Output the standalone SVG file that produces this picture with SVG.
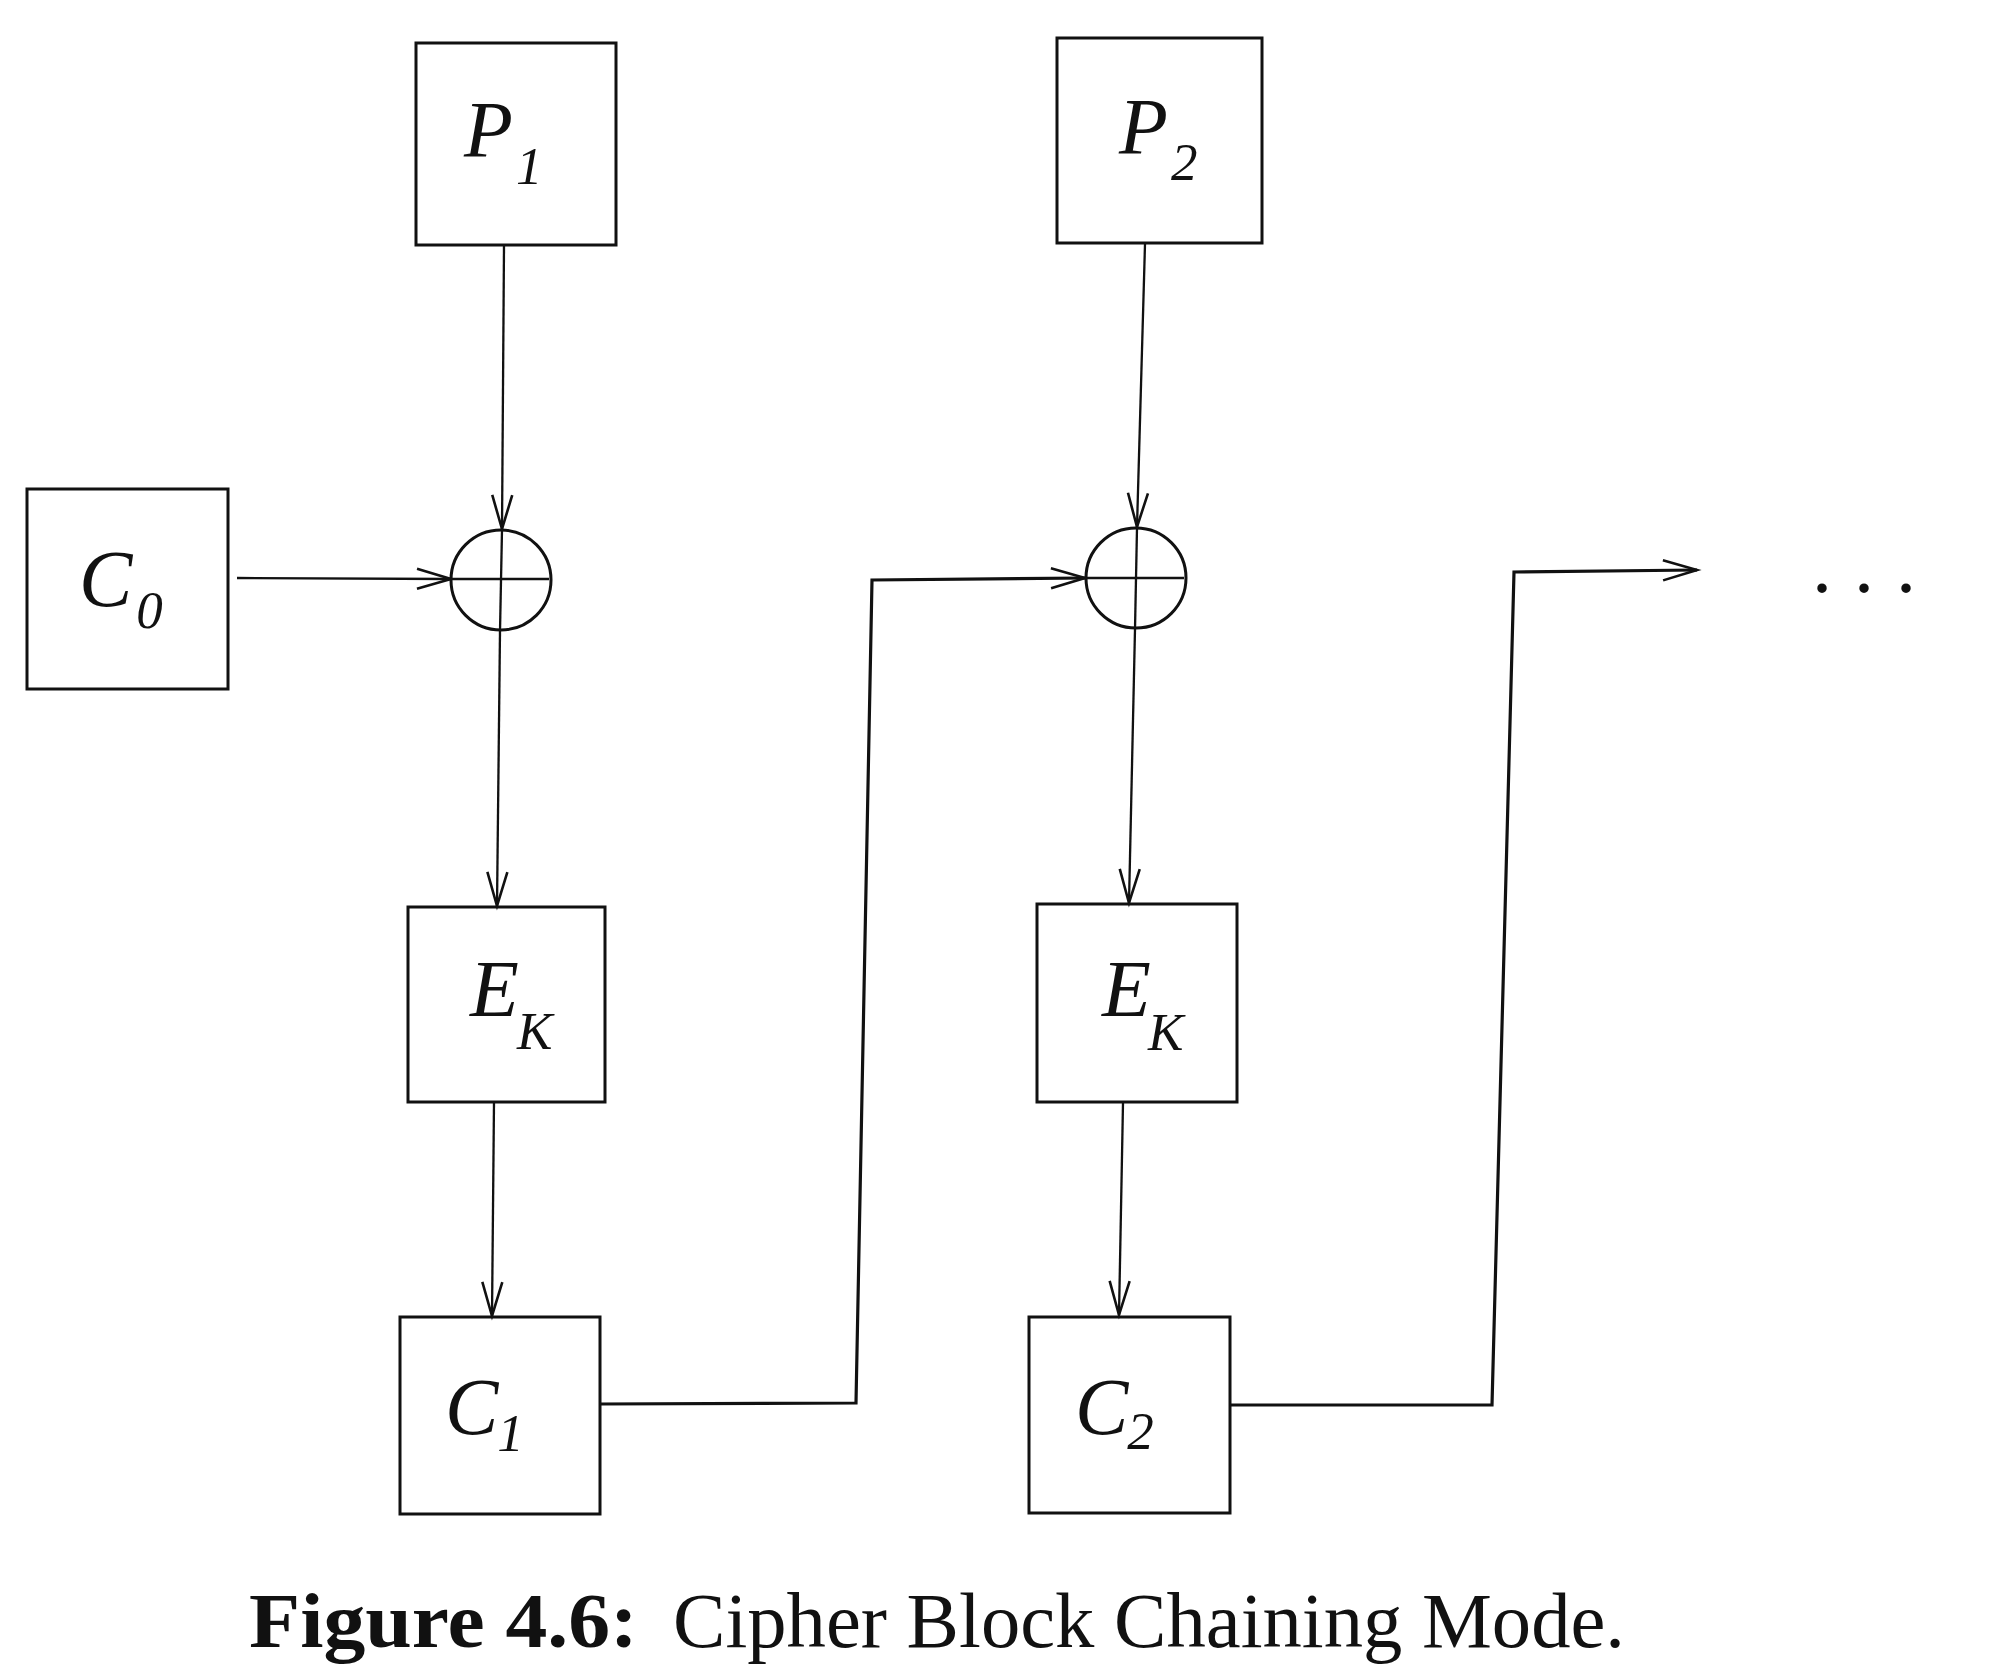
<svg xmlns="http://www.w3.org/2000/svg" width="2000" height="1680" viewBox="0 0 2000 1680">
  <defs>
    <style>
      .box { fill: none; stroke: #111; stroke-width: 3; }
      .conn { fill: none; stroke: #111; stroke-width: 2.3; }
      .chain { fill: none; stroke: #111; stroke-width: 3.2; }
      .xor { fill: none; stroke: #111; stroke-width: 3; }
      .lbl { font-family: "Liberation Serif", "Times New Roman", serif; font-style: italic; font-size: 80px; fill: #111; }
      .sub { font-size: 53px; }
      .cap { font-family: "Liberation Serif", "Times New Roman", serif; font-size: 78px; fill: #111; }
    </style>
    <marker id="arr" markerUnits="userSpaceOnUse" markerWidth="40" markerHeight="24" refX="34" refY="10" orient="auto" overflow="visible">
      <path d="M0,0 L34,10 L0,20" fill="none" stroke="#111" stroke-width="2.6"/>
    </marker>
  </defs>
  <rect width="2000" height="1680" fill="#ffffff"/>

  <g id="connectors">
    <line class="conn" x1="504" y1="246" x2="502" y2="529" marker-end="url(#arr)"/>
    <line class="conn" x1="237" y1="578" x2="451" y2="579" marker-end="url(#arr)"/>
    <line class="conn" x1="500" y1="631" x2="497" y2="906" marker-end="url(#arr)"/>
    <line class="conn" x1="494" y1="1102" x2="492" y2="1316" marker-end="url(#arr)"/>
    <polyline class="chain" points="600,1404 856,1403 872,580 1085,578" marker-end="url(#arr)"/>
    <line class="conn" x1="1145" y1="244" x2="1137" y2="527" marker-end="url(#arr)"/>
    <line class="conn" x1="1135" y1="629" x2="1129" y2="903" marker-end="url(#arr)"/>
    <line class="conn" x1="1123" y1="1103" x2="1119" y2="1315" marker-end="url(#arr)"/>
    <polyline class="chain" points="1230,1405 1492,1405 1514,572 1697,570" marker-end="url(#arr)"/>
  </g>

  <g id="P1">
    <rect class="box" x="416" y="43" width="200" height="202"/>
    <text class="lbl" x="464" y="157">P<tspan class="sub" dx="3" dy="27">1</tspan></text>
  </g>

  <g id="C0">
    <rect class="box" x="27" y="489" width="201" height="200"/>
    <text class="lbl" x="79" y="606">C<tspan class="sub" dx="4" dy="22">0</tspan></text>
  </g>

  <g id="XOR1">
    <circle class="xor" cx="501" cy="580" r="50"/>
    <line class="conn" x1="451" y1="579" x2="549" y2="579"/>
    <line class="conn" x1="502" y1="530" x2="500" y2="631"/>
  </g>

  <g id="EK1">
    <rect class="box" x="408" y="907" width="197" height="195"/>
    <text class="lbl" x="470" y="1016">E<tspan class="sub" dx="-2" dy="33">K</tspan></text>
  </g>

  <g id="C1">
    <rect class="box" x="400" y="1317" width="200" height="197"/>
    <text class="lbl" x="445" y="1434">C<tspan class="sub" dx="-1" dy="17">1</tspan></text>
  </g>

  <g id="P2">
    <rect class="box" x="1057" y="38" width="205" height="205"/>
    <text class="lbl" x="1119" y="154">P<tspan class="sub" dx="3" dy="26">2</tspan></text>
  </g>

  <g id="XOR2">
    <circle class="xor" cx="1136" cy="578" r="50"/>
    <line class="conn" x1="1086" y1="578" x2="1184" y2="578"/>
    <line class="conn" x1="1137" y1="528" x2="1135" y2="629"/>
  </g>

  <g id="EK2">
    <rect class="box" x="1037" y="904" width="200" height="198"/>
    <text class="lbl" x="1102" y="1016">E<tspan class="sub" dx="-3" dy="34">K</tspan></text>
  </g>

  <g id="C2">
    <rect class="box" x="1029" y="1317" width="201" height="196"/>
    <text class="lbl" x="1075" y="1434">C<tspan class="sub" dx="-1" dy="15">2</tspan></text>
  </g>

  <g id="ellipsis">
    <text class="lbl" x="1812" y="592" style="font-style:normal" letter-spacing="22">...</text>
  </g>

  <g id="caption">
    <text class="cap" x="249" y="1647" font-weight="bold" textLength="389" lengthAdjust="spacingAndGlyphs">Figure 4.6:</text>
    <text class="cap" x="673" y="1647" textLength="952" lengthAdjust="spacingAndGlyphs">Cipher Block Chaining Mode.</text>
  </g>
</svg>
